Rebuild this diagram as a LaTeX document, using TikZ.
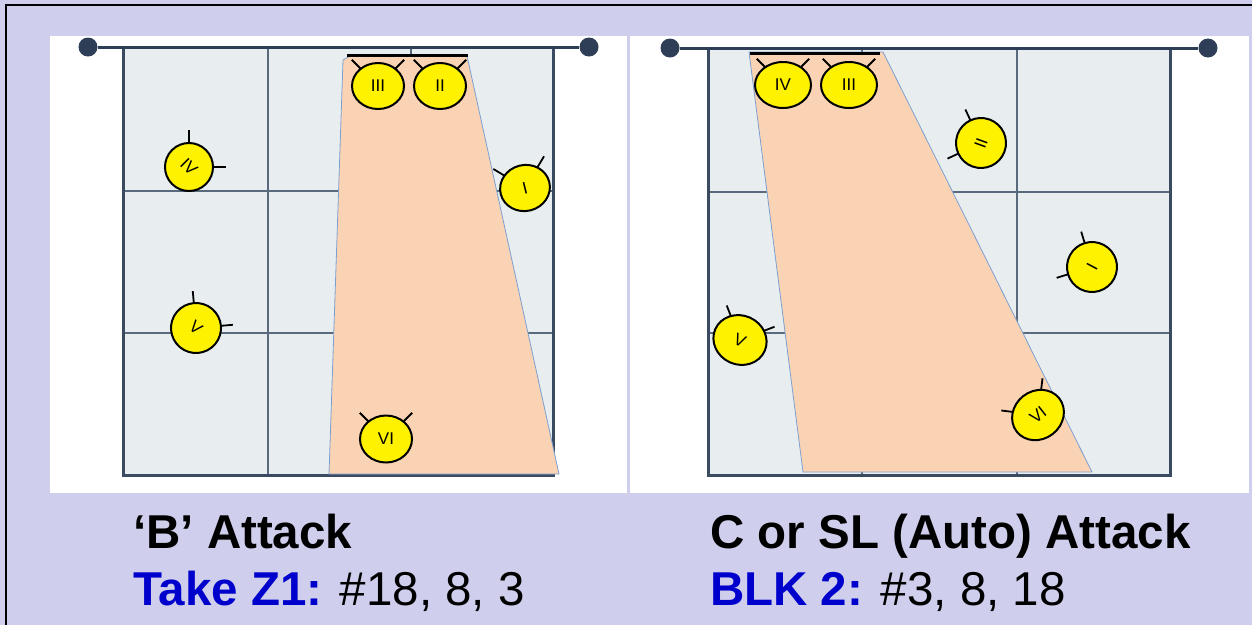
\documentclass[tikz,border=0pt]{standalone}
\usepackage{fontspec}
\setmainfont{Liberation Sans}
\usetikzlibrary{shapes.geometric}
\definecolor{bgl}{HTML}{CFCFED}
\definecolor{courtf}{HTML}{E8EEF0}
\definecolor{courtl}{HTML}{3A4A60}
\definecolor{gridl}{HTML}{5A6A7E}
\definecolor{netc}{HTML}{2E3E56}
\definecolor{peach}{HTML}{FAD3B4}
\definecolor{zonel}{HTML}{7C9FD0}
\definecolor{blu}{HTML}{0000CC}
\tikzset{
  arm/.style={line width=1.8pt, black},
  plbody/.style={ellipse, draw=black, line width=2pt, fill=yellow, inner sep=0pt,
     transform shape, font=\fontsize{17}{17}\selectfont},
  pics/player/.style args={#1/#2/#3}{code={
     \draw[arm] (45:20pt) -- (45:37pt);
     \draw[arm] (135:20pt) -- (135:37pt);
     \node[plbody, minimum width=#2pt, minimum height=#3pt] (-b) {#1};
  }},
  panel/.style={fill=white, draw=none},
  courtfill/.style={fill=courtf, draw=none},
  gridline/.style={draw=gridl, line width=2pt},
  courtborder/.style={draw=courtl, line width=3pt},
  netline/.style={draw=netc, line width=3pt},
  netdot/.style={circle, fill=netc, minimum size=19pt, inner sep=0pt},
  zone/.style={fill=peach, draw=zonel, line width=0.8pt, line join=round},
  blockline/.style={draw=black, line width=3pt},
  title/.style={anchor=base west, inner sep=0pt, font=\bfseries\fontsize{47.5}{48}\selectfont},
  sub/.style={anchor=base west, inner sep=0pt, font=\fontsize{47.5}{48}\selectfont},
}
\begin{document}
\begin{tikzpicture}[x=1pt,y=-1pt]
\useasboundingbox (0,0) rectangle (1252,625);
\fill[bgl] (0,0) rectangle (1252,625);
\draw[black, line width=2pt] (6,625) -- (6,5) -- (1252,5);
% panels
\fill[panel] (50,36) rectangle (627,493);
\fill[panel] (630,36) rectangle (1249,493);

% ---------- left court ----------
\fill[courtfill] (123,47) rectangle (553,475);
\draw[gridline] (268,47) -- (268,475) (411,47) -- (411,475)
                (123,191) -- (553,191) (123,333) -- (553,333);
\draw[courtborder] (123,47) rectangle (553,475);
\node[netdot] (dotL1) at (88,47) {};
\node[netdot] (dotL2) at (589,47) {};
\draw[netline] (dotL1) -- (dotL2);
\draw[zone] (329,474) -- (343,60) -- (350,56) -- (467,56) -- (559,474) -- cycle;
\draw[blockline] (347,55) -- (468,55);

\pic (pIIIl) at (378,86) {player=III/52/46};
\pic (pIIl) at (440,86) {player=II/52/46};
\pic (pIl) [rotate=14] at (525,188) {player=I/50/46};
\pic (pIVl) [rotate=-45] at (189,167) {player=IV/48/48};
\pic (pVl) [rotate=-40] at (196,328) {player=V/50/50};
\pic (pVIl) at (386,439) {player=VI/52/47};

% ---------- right court ----------
\fill[courtfill] (708,48) rectangle (1170,475);
\draw[gridline] (862,48) -- (862,475) (1017,48) -- (1017,475)
                (708,192) -- (1170,192) (708,333) -- (1170,333);
\draw[courtborder] (708,48) rectangle (1170,475);
\node[netdot] (dotR1) at (670,48) {};
\node[netdot] (dotR2) at (1208,48) {};
\draw[netline] (dotR1) -- (dotR2);
\draw[zone] (749,52) -- (883,52) -- (1092,472) -- (803,472) -- cycle;
\draw[blockline] (750,53) -- (880,53);

\pic (pIVr) at (783,85) {player=IV/56/46};
\pic (pIIIr) at (849,85) {player=III/56/46};
\pic (pIIr) [rotate=70] at (981,143) {player=II/50/50};
\pic (pIr) [rotate=62] at (1092,267) {player=I/50/50};
\pic (pVIr) [rotate=38] at (1038,415) {player=VI/54/48};
\pic (pVr) [rotate=-24] at (740,340) {player=V/54/49};

% ---------- captions ----------
\node[title] (tB) at (133,548) {‘B’ Attack};
\node[sub] (tZ) at (133,605) {\textcolor{blu}{\bfseries Take Z1:} \#18, 8, 3};
\node[title] (tC) at (710,548) {C or SL (Auto) Attack};
\node[sub] (tK) at (710,605) {\textcolor{blu}{\bfseries BLK 2:} \#3, 8, 18};
\end{tikzpicture}
\end{document}
